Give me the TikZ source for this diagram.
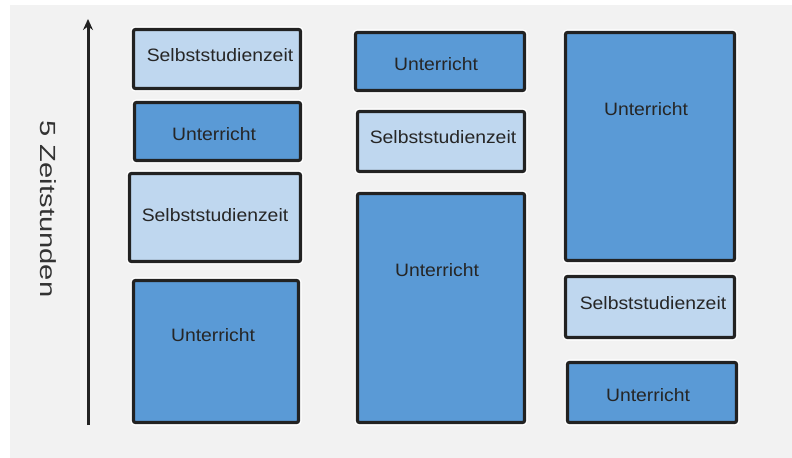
\documentclass[tikz,border=0pt]{standalone}
\usepackage{fontspec}
\setmainfont{Liberation Sans}
\usepackage{graphicx}
\usetikzlibrary{arrows.meta}
\definecolor{bggray}{HTML}{F2F2F2}
\definecolor{lightbox}{HTML}{BFD7EF}
\definecolor{darkbox}{HTML}{5A9AD6}
\definecolor{edge}{HTML}{222222}
\tikzset{
  box/.style={draw=edge, line width=3.2bp, rounded corners=2bp, inner sep=0pt,
    preaction={draw=white, line width=6bp, rounded corners=3bp}},
  lbox/.style={box, fill=lightbox},
  dbox/.style={box, fill=darkbox},
  txt/.style={font=\fontsize{18}{20}\selectfont, text=black!85, inner sep=0pt},
}
\newcommand{\wtxt}[1]{\scalebox{1.08}[1]{#1}}
\begin{document}
\begin{tikzpicture}[x=1bp,y=-1bp]
\useasboundingbox (0,0) rectangle (792,458);
\fill[white] (0,0) rectangle (792,458);
\fill[bggray] (10,5) rectangle (792,458);
% column 1
\node[lbox, minimum width=167bp, minimum height=59bp] (c1a) at (217,59) {};
\node[dbox, minimum width=166bp, minimum height=58bp] (c1b) at (217.5,131.5) {};
\node[lbox, minimum width=171bp, minimum height=88bp] (c1c) at (215,217.5) {};
\node[dbox, minimum width=165bp, minimum height=142bp] (c1d) at (216,351.5) {};
% column 2
\node[dbox, minimum width=169bp, minimum height=58bp] (c2a) at (440,61.5) {};
\node[lbox, minimum width=167bp, minimum height=60bp] (c2b) at (441,141.5) {};
\node[dbox, minimum width=167bp, minimum height=229bp] (c2c) at (441,308) {};
% column 3
\node[dbox, minimum width=169bp, minimum height=228bp] (c3a) at (650,146.5) {};
\node[lbox, minimum width=169bp, minimum height=61bp] (c3b) at (650,307) {};
\node[dbox, minimum width=169bp, minimum height=60bp] (c3c) at (652,392.5) {};
% texts
\node[txt] (t1a) at (220,55) {\wtxt{Selbststudienzeit}};
\node[txt] (t1b) at (214,134) {\wtxt{Unterricht}};
\node[txt] (t1c) at (215,215) {\wtxt{Selbststudienzeit}};
\node[txt] (t1d) at (213,335) {\wtxt{Unterricht}};
\node[txt] (t2a) at (436,64) {\wtxt{Unterricht}};
\node[txt] (t2b) at (443,137) {\wtxt{Selbststudienzeit}};
\node[txt] (t2c) at (437,270) {\wtxt{Unterricht}};
\node[txt] (t3a) at (646,109) {\wtxt{Unterricht}};
\node[txt] (t3b) at (653,303) {\wtxt{Selbststudienzeit}};
\node[txt] (t3c) at (648,395) {\wtxt{Unterricht}};
% axis
\coordinate (abot) at (88,425);
\coordinate (atop) at (88,19);
\draw[edge, line width=3bp, -{Stealth[length=11bp,width=10bp]}] (abot) -- (atop);
\node[font=\fontsize{22}{24}\selectfont, text=black!80, rotate=-90, inner sep=0pt] (ylab) at (48.5,209) {\scalebox{1.33}[1]{5 Zeitstunden}};
\end{tikzpicture}
\end{document}
